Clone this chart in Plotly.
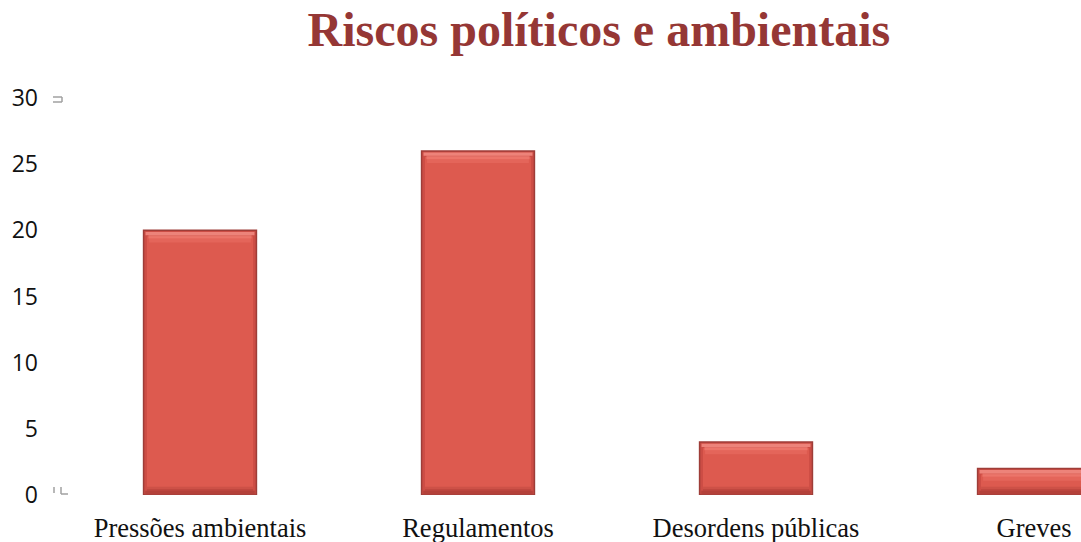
import plotly.graph_objects as go

categories = ["Pressões ambientais", "Regulamentos", "Desordens públicas", "Greves"]
values = [20, 26, 4, 2]
y_ticks = [0, 5, 10, 15, 20, 25, 30]

BAR_W = 0.406
N = len(values)

fig = go.Figure()

# main bar body with dark rim
fig.add_trace(go.Bar(
    x=categories, y=values, width=BAR_W,
    marker=dict(color="#CC4D45", line=dict(color="#9E3D38", width=1.5)),
    hoverinfo="x+y",
))
# lighter inner face, leaving darker sides
fig.add_trace(go.Bar(
    x=categories, y=[v - 0.9 for v in values], base=[0.45] * N,
    width=BAR_W - 0.024,
    marker=dict(color="#DD5A4F", line=dict(width=0)),
    hoverinfo="skip",
))


def band(offset_from_top, height, color, shrink):
    """Horizontal bevel band placed relative to each bar's top."""
    fig.add_trace(go.Bar(
        x=categories, y=[height] * N,
        base=[v - offset_from_top - height for v in values],
        width=BAR_W - shrink,
        marker=dict(color=color, line=dict(width=0)),
        hoverinfo="skip",
    ))


def floor_band(offset, height, color, shrink):
    """Horizontal bevel band placed relative to each bar's base."""
    fig.add_trace(go.Bar(
        x=categories, y=[height] * N, base=[offset] * N,
        width=BAR_W - shrink,
        marker=dict(color=color, line=dict(width=0)),
        hoverinfo="skip",
    ))


# top highlight, fading downward
band(0.12, 0.25, "rgba(255,160,150,0.65)", 0.014)
band(0.37, 0.25, "rgba(255,150,140,0.45)", 0.035)
band(0.62, 0.30, "rgba(255,140,130,0.22)", 0.04)
# bottom shading, fading upward
floor_band(0.08, 0.25, "rgba(150,50,45,0.45)", 0.012)
floor_band(0.33, 0.30, "rgba(150,50,45,0.22)", 0.025)


def px_to_paper(px, py):
    return (px - 61) / 1020, (495 - py) / 397


def seg(p0, p1):
    x0, y0 = px_to_paper(*p0)
    x1, y1 = px_to_paper(*p1)
    fig.add_shape(type="line", xref="paper", yref="paper",
                  x0=x0, y0=y0, x1=x1, y1=y1,
                  line=dict(color="#A0A0A0", width=1.5))


# small axis-end glyphs
seg((53, 97), (62, 97))
seg((62, 97), (62, 102))
seg((53, 102), (62, 102))
seg((54, 487), (54, 493))
seg((61, 487), (61, 494))
seg((61, 494), (68, 494))

fig.update_layout(
    width=1081, height=542,
    margin=dict(l=61, r=0, t=98, b=47),
    paper_bgcolor="white", plot_bgcolor="white",
    barmode="overlay", showlegend=False,
    title=dict(
        text="<b>Riscos políticos e ambientais</b>",
        x=0.554, xanchor="center", y=0.916, yanchor="bottom",
        font=dict(family="Liberation Serif", size=48, color="#953735"),
    ),
    xaxis=dict(
        range=[-0.5, 3.169], showgrid=False, showline=False, zeroline=False,
        ticks="", ticklabelstandoff=14,
        tickfont=dict(family="Liberation Serif", size=26.5, color="#111111"),
    ),
    yaxis=dict(
        range=[0, 30], tickvals=y_ticks, showgrid=False, showline=False,
        zeroline=False, ticks="", ticklabelstandoff=22,
        tickfont=dict(family="Open Sans", size=23, color="#111111"),
    ),
)

fig.write_html("out.html")
